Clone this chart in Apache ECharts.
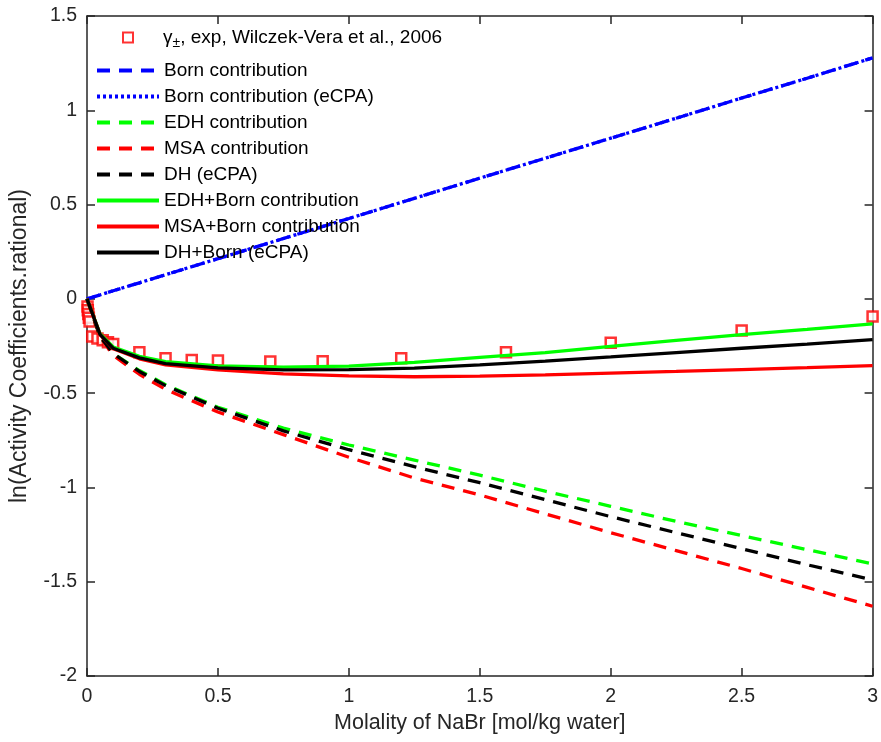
<!DOCTYPE html>
<html>
<head>
<meta charset="utf-8">
<script src="https://cdn.jsdelivr.net/npm/echarts@6/dist/echarts.min.js"></script>
<style>html,body{margin:0;padding:0;background:#fff}#c{width:881px;height:742px}</style>
</head>
<body>
<div id="c"></div>
<script>
// ---- data ----
const molality = [0, 0.05, 0.1, 0.2, 0.3, 0.5, 0.75, 1, 1.25, 1.5, 1.75, 2, 2.25, 2.5, 2.75, 3];
const born      = [0, 0.021, 0.043, 0.085, 0.128, 0.213, 0.32, 0.426, 0.533, 0.64, 0.746, 0.852, 0.958, 1.065, 1.17, 1.278];
const bornECPA  = [0, 0.021, 0.043, 0.085, 0.128, 0.213, 0.32, 0.426, 0.533, 0.64, 0.746, 0.852, 0.958, 1.065, 1.17, 1.278];
const edh       = [0, -0.20, -0.29, -0.38, -0.455, -0.575, -0.685, -0.775, -0.855, -0.935, -1.02, -1.10, -1.18, -1.255, -1.33, -1.405];
const msa       = [0, -0.20, -0.30, -0.40, -0.48, -0.60, -0.72, -0.84, -0.95, -1.04, -1.14, -1.24, -1.335, -1.43, -1.53, -1.63];
const dhECPA    = [0, -0.20, -0.29, -0.385, -0.46, -0.58, -0.70, -0.80, -0.89, -0.975, -1.065, -1.155, -1.24, -1.325, -1.41, -1.49];
const edhBorn   = [0, -0.185, -0.255, -0.305, -0.333, -0.355, -0.362, -0.357, -0.337, -0.31, -0.285, -0.252, -0.22, -0.19, -0.162, -0.133];
const msaBorn   = [0, -0.19, -0.265, -0.318, -0.35, -0.377, -0.398, -0.408, -0.413, -0.41, -0.403, -0.394, -0.385, -0.375, -0.365, -0.354];
const dhBorn    = [0, -0.19, -0.262, -0.313, -0.343, -0.366, -0.377, -0.375, -0.367, -0.35, -0.33, -0.308, -0.285, -0.262, -0.24, -0.216];
const expM      = [0.002, 0.003, 0.005, 0.007, 0.01, 0.02, 0.04, 0.06, 0.08, 0.1, 0.2, 0.3, 0.4, 0.5, 0.7, 0.9, 1.2, 1.6, 2.0, 2.5, 3.0];
const expLnGamma= [-0.04, -0.06, -0.08, -0.10, -0.12, -0.20, -0.21, -0.22, -0.23, -0.24, -0.283, -0.315, -0.324, -0.327, -0.332, -0.331, -0.315, -0.283, -0.233, -0.168, -0.094];
const xTicks = [0, 0.5, 1, 1.5, 2, 2.5, 3];
const yTicks = [-2, -1.5, -1, -0.5, 0, 0.5, 1, 1.5];

const names = {
  exp: 'γ±, exp, Wilczek-Vera et al., 2006',
  born: 'Born contribution',
  bornE: 'Born contribution (eCPA)',
  edh: 'EDH contribution',
  msa: 'MSA contribution',
  dh: 'DH (eCPA)',
  edhB: 'EDH+Born contribution',
  msaB: 'MSA+Born contribution',
  dhB: 'DH+Born (eCPA)'
};

const pair = (xs, ys) => xs.map((x, i) => [x, ys[i]]);
const FONT = 'Liberation Sans, Arial, Helvetica, sans-serif';
const DASH = [13, 9];
const LW = 3.3;

function lineSeries(name, ys, color, type, z) {
  return {
    name, type: 'line', data: pair(molality, ys), symbol: 'none', showSymbol: false, z: z,
    lineStyle: { color, width: LW, type }, itemStyle: { color },
    animation: false
  };
}

const chart = echarts.init(document.getElementById('c'), null, { renderer: 'canvas' });
const axisCommon = {
  axisLine: { show: true, onZero: false, lineStyle: { color: '#262626', width: 1.5 } },
  axisTick: { show: true, inside: true, length: 8, lineStyle: { color: '#262626', width: 1.5 } },
  splitLine: { show: false }
};
chart.setOption({
  animation: false,
  grid: { left: 86, right: 5, top: 16, bottom: 66 },
  xAxis: [
    Object.assign({
      type: 'value', min: 0, max: 3, interval: 0.5, position: 'bottom',
      name: 'Molality of NaBr [mol/kg water]', nameLocation: 'middle', nameGap: 33,
      nameTextStyle: { fontFamily: FONT, fontSize: 21.5, color: '#262626' },
      axisLabel: { fontFamily: FONT, fontSize: 19.5, color: '#262626', margin: 11,
        formatter: v => xTicks.includes(v) ? String(v) : '' }
    }, axisCommon),
    Object.assign({
      type: 'value', min: 0, max: 3, interval: 0.5, position: 'top',
      axisLabel: { show: false }
    }, axisCommon)
  ],
  yAxis: [
    Object.assign({
      type: 'value', min: -2, max: 1.5, interval: 0.5, position: 'left',
      name: 'ln(Activity Coefficients.rational)', nameLocation: 'middle', nameGap: 56,
      nameTextStyle: { fontFamily: FONT, fontSize: 23, color: '#262626' },
      axisLabel: { fontFamily: FONT, fontSize: 19.5, color: '#262626', margin: 10,
        formatter: v => yTicks.includes(v) ? String(v) : '' }
    }, axisCommon),
    Object.assign({
      type: 'value', min: -2, max: 1.5, interval: 0.5, position: 'right',
      axisLabel: { show: false }
    }, axisCommon)
  ],
  legend: [
    {
      data: [{ name: names.exp, icon: 'rect' }],
      left: 122, top: 28, padding: 0, itemWidth: 10, itemHeight: 10, itemGap: 0,
      selectedMode: false,
      formatter: () => 'γ{sub|±}, exp, Wilczek-Vera et al., 2006',
      textStyle: { fontFamily: FONT, fontSize: 19, color: '#000', padding: [0, 0, 0, 25],
        rich: { sub: { fontFamily: FONT, fontSize: 14, color: '#000', padding: [12, 0, 0, 0] } } }
    },
    {
      data: [names.born, names.bornE, names.edh, names.msa, names.dh, names.edhB, names.msaB, names.dhB],
      orient: 'vertical', left: 95, top: 60, padding: 0, itemWidth: 62, itemHeight: 14, itemGap: 5,
      selectedMode: false,
      itemStyle: { opacity: 0 },
      lineStyle: { width: 4 },
      textStyle: { fontFamily: FONT, fontSize: 19, color: '#000', lineHeight: 21, padding: [0, 0, 0, 0] }
    }
  ],
  series: [
    {
      name: names.exp, type: 'scatter', data: pair(expM, expLnGamma),
      symbol: 'rect', symbolSize: 10, clip: false, z: 2,
      itemStyle: { color: '#fff', borderColor: '#ff0000', borderWidth: 2.5 }
    },
    lineSeries(names.born, born, '#0000ff', DASH, 3),
    lineSeries(names.bornE, bornECPA, '#0000ff', [3, 3], 3),
    lineSeries(names.edh, edh, '#00ff00', DASH, 3),
    lineSeries(names.msa, msa, '#ff0000', DASH, 3),
    lineSeries(names.dh, dhECPA, '#000000', DASH, 3),
    lineSeries(names.edhB, edhBorn, '#00ff00', 'solid', 4),
    lineSeries(names.msaB, msaBorn, '#ff0000', 'solid', 4),
    lineSeries(names.dhB, dhBorn, '#000000', 'solid', 4)
  ]
});
</script>
</body>
</html>
